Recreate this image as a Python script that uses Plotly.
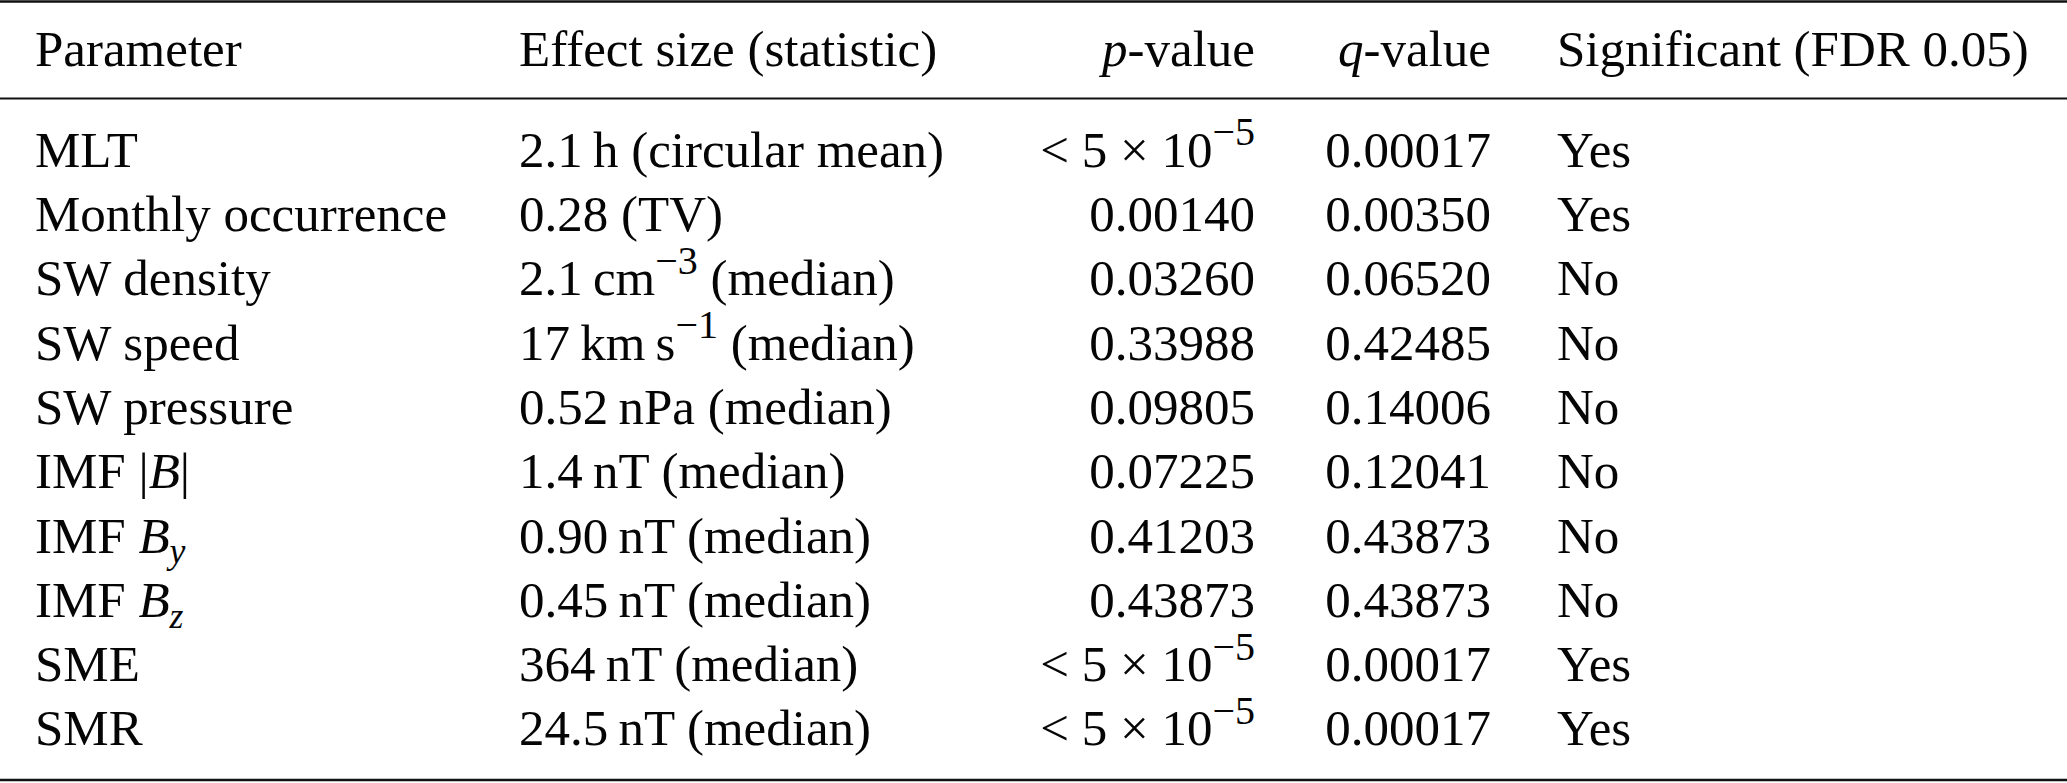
import plotly.graph_objects as go

# ---- data ----
SUP = "<sup><span style='font-size:40px'>{}</span></sup>"
headers = ["Parameter", "Effect size (statistic)", "<i>p</i>-value", "<i>q</i>-value",
           "Significant (FDR 0.05)"]
parameters = ["MLT", "Monthly occurrence", "SW density", "SW speed", "SW pressure",
              "IMF |<i>B</i>|", "IMF <i>B</i><sub><i>y</i></sub>", "IMF <i>B</i><sub><i>z</i></sub>",
              "SME", "SMR"]
effect_sizes = ["2.1\u2009h (circular mean)", "0.28 (TV)",
                "2.1\u2009cm" + SUP.format("\u22123") + " (median)",
                "17\u2009km\u2009s" + SUP.format("\u22121") + " (median)",
                "0.52\u2009nPa (median)", "1.4\u2009nT (median)", "0.90\u2009nT (median)",
                "0.45\u2009nT (median)", "364\u2009nT (median)", "24.5\u2009nT (median)"]
P_SMALL = "< 5 \u00d7 10" + SUP.format("\u22125")
p_values = [P_SMALL, "0.00140", "0.03260", "0.33988", "0.09805",
            "0.07225", "0.41203", "0.43873", P_SMALL, P_SMALL]
q_values = ["0.00017", "0.00350", "0.06520", "0.42485", "0.14006",
            "0.12041", "0.43873", "0.43873", "0.00017", "0.00017"]
significant = ["Yes", "Yes", "No", "No", "No", "No", "No", "No", "Yes", "Yes"]

# ---- layout (positions/styles) ----
W, H = 2067, 783
FONT = dict(family="Liberation Serif, Times New Roman, serif", size=51, color="#050505")
col_x = [35, 519, 1255, 1491, 1557]
col_pos = ["middle right", "middle right", "middle left", "middle left", "middle right"]
header_row = -1.56
top_rule, mid_rule, bottom_rule = -2.371, -0.862, 9.737
y_range = [9.783, -2.394]

columns = [parameters, effect_sizes, p_values, q_values, significant]
rows = list(range(len(parameters)))

fig = go.Figure()
for j, col in enumerate(columns):
    fig.add_trace(go.Scatter(
        x=[col_x[j]] * (len(col) + 1),
        y=[header_row] + rows,
        text=[headers[j]] + col,
        mode="text",
        textposition=col_pos[j],
        textfont=FONT,
        hoverinfo="skip",
        showlegend=False,
    ))

for yv, w in [(top_rule, 2.6), (mid_rule, 2.2), (bottom_rule, 2.6)]:
    fig.add_shape(type="line", xref="paper", yref="y", x0=0, x1=1, y0=yv, y1=yv,
                  line=dict(color="#111111", width=w))

fig.update_layout(
    width=W, height=H,
    margin=dict(l=0, r=0, t=0, b=0),
    paper_bgcolor="white", plot_bgcolor="white",
    xaxis=dict(range=[0, W], visible=False, fixedrange=True),
    yaxis=dict(range=y_range, visible=False, fixedrange=True),
)
fig.write_html("out.html", config={"displayModeBar": False},
               post_script="document.body.style.margin='0';document.body.style.overflow='hidden';")
